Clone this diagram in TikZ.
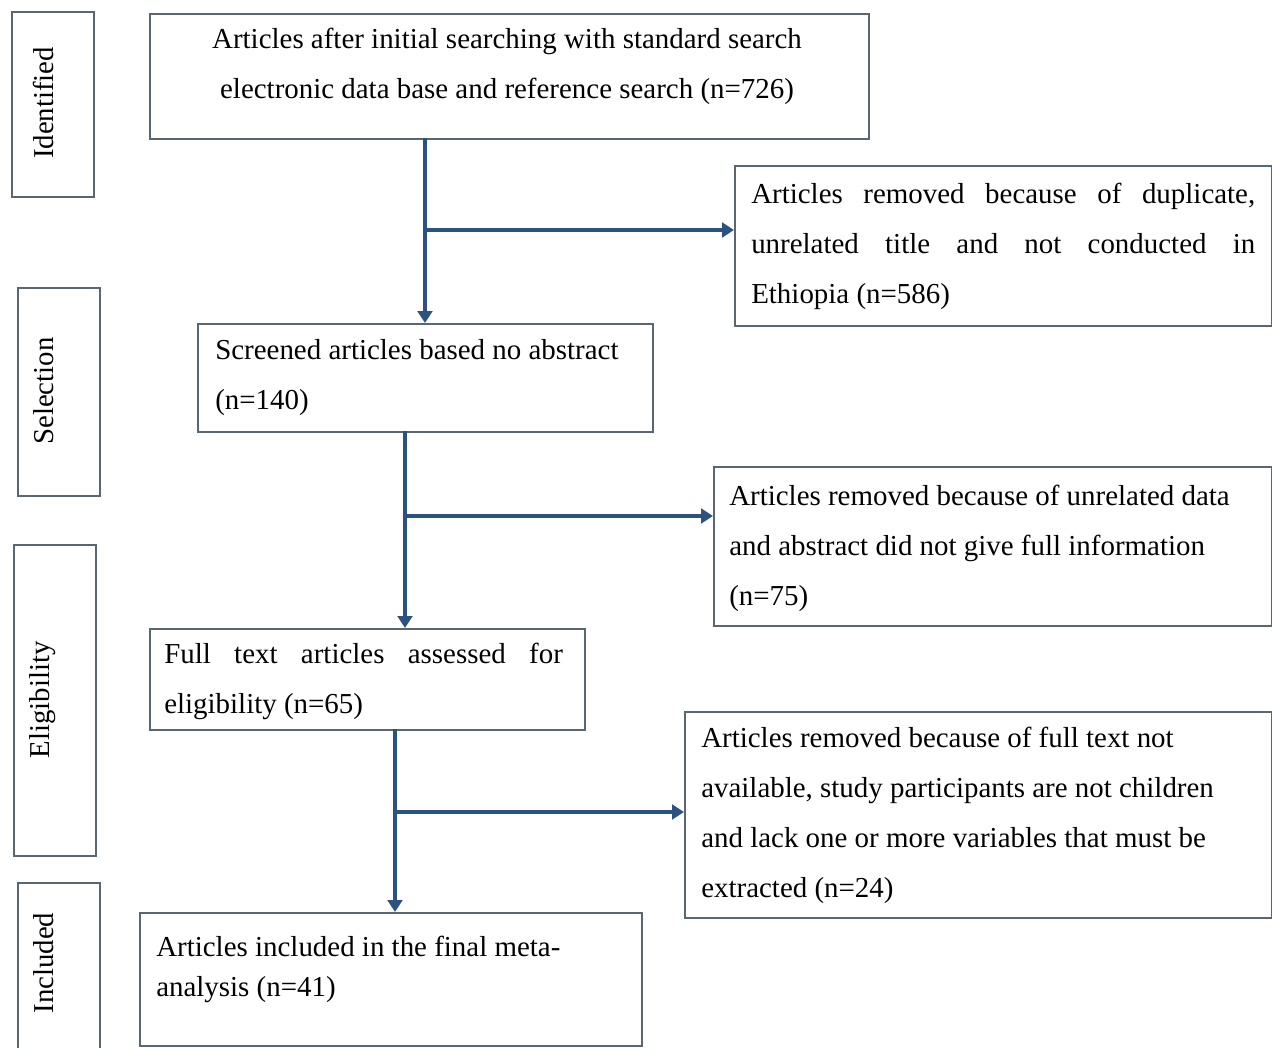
\documentclass[tikz,border=0pt]{standalone}
\usepackage{fontspec}
\setmainfont{Liberation Serif}
\usetikzlibrary{arrows.meta}
\definecolor{boxc}{HTML}{5A6670}
\definecolor{arrc}{HTML}{2C5282}
\tikzset{
  box/.style={draw=boxc, line width=1.6pt, inner sep=0pt, anchor=north west},
  txt/.style={inner sep=0pt, anchor=base west, align=left, font=\fontsize{21.7}{37.5}\selectfont},
  ctxt/.style={inner sep=0pt, anchor=base, align=center, font=\fontsize{21.7}{37.5}\selectfont},
  lbl/.style={inner sep=0pt, anchor=base, rotate=90, font=\fontsize{21.6}{26}\selectfont},
  arr/.style={draw=arrc, line width=2.3pt, -{Triangle[length=9pt,width=11pt]}},
  ln/.style={draw=arrc, line width=2.3pt}
}
\newcommand\mkbox[5]{\node[box, minimum width={(#4-#2)*0.75pt}, minimum height={(#5-#3)*0.75pt}] (#1) at (#2,#3) {};}
\newcommand\jl[2]{\makebox[#1pt][s]{#2}}
\begin{document}
\begin{tikzpicture}[x=0.75pt,y=-0.75pt]
\clip (0,0) rectangle (1272,1047);
\fill[white] (0,0) rectangle (1272,1047);
% stage labels
\mkbox{sid}{11}{11}{93}{196}
\mkbox{ssel}{17}{287}{99}{495}
\mkbox{selig}{13}{544}{95}{855}
\mkbox{sinc}{17}{882}{99}{1070}
\node[lbl] (lid) at (53,103) {Identified};
\node[lbl] (lsel) at (53,391) {Selection};
\node[lbl] (lelig) at (50,700) {Eligibility};
\node[lbl] (linc) at (53,963) {Included};
% main boxes
\mkbox{b1}{149}{13}{868}{138}
\mkbox{b2}{197}{323}{652}{431}
\mkbox{b3}{149}{628}{584}{729}
\mkbox{b4}{139}{912}{641}{1045}
\mkbox{r1}{734}{165}{1271}{325}
\mkbox{r2}{713}{466}{1271}{625}
\mkbox{r3}{684}{711}{1271}{917}
% texts (anchored at the baseline of the last line)
\node[ctxt] (t1) at (507,98) {Articles after initial searching with standard search\\electronic data base and reference search (n=726)};
\node[txt] (t2) at (215,409) {Screened articles based no abstract\\(n=140)};
\node[txt] (t3) at (164,713) {\jl{299}{Full text articles assessed for}\\eligibility (n=65)};
\node[txt, font=\fontsize{21.7}{29.3}\selectfont] (t4) at (156,996) {Articles included in the final meta-\\analysis (n=41)};
\node[txt] (tr1) at (751,303) {\jl{378}{Articles removed because of duplicate,}\\\jl{378}{unrelated title and not conducted in}\\Ethiopia (n=586)};
\node[txt] (tr2) at (729,605) {Articles removed because of unrelated data\\and abstract did not give full information\\(n=75)};
\node[txt] (tr3) at (701,897) {Articles removed because of full text not\\available, study participants are not children\\and lack one or more variables that must be\\extracted (n=24)};
% connectors
\coordinate (a1) at (425,138);
\coordinate (j1) at (425,230);
\coordinate (a2) at (405,431);
\coordinate (j2) at (405,516);
\coordinate (a3) at (395,729);
\coordinate (j3) at (395,812);
\draw[arr] (a1) -- (a1 |- b2.north);
\draw[arr] (j1) -- (j1 -| r1.west);
\draw[arr] (a2) -- (a2 |- b3.north);
\draw[arr] (j2) -- (j2 -| r2.west);
\draw[arr] (a3) -- (a3 |- b4.north);
\draw[arr] (j3) -- (j3 -| r3.west);
\end{tikzpicture}
\end{document}
